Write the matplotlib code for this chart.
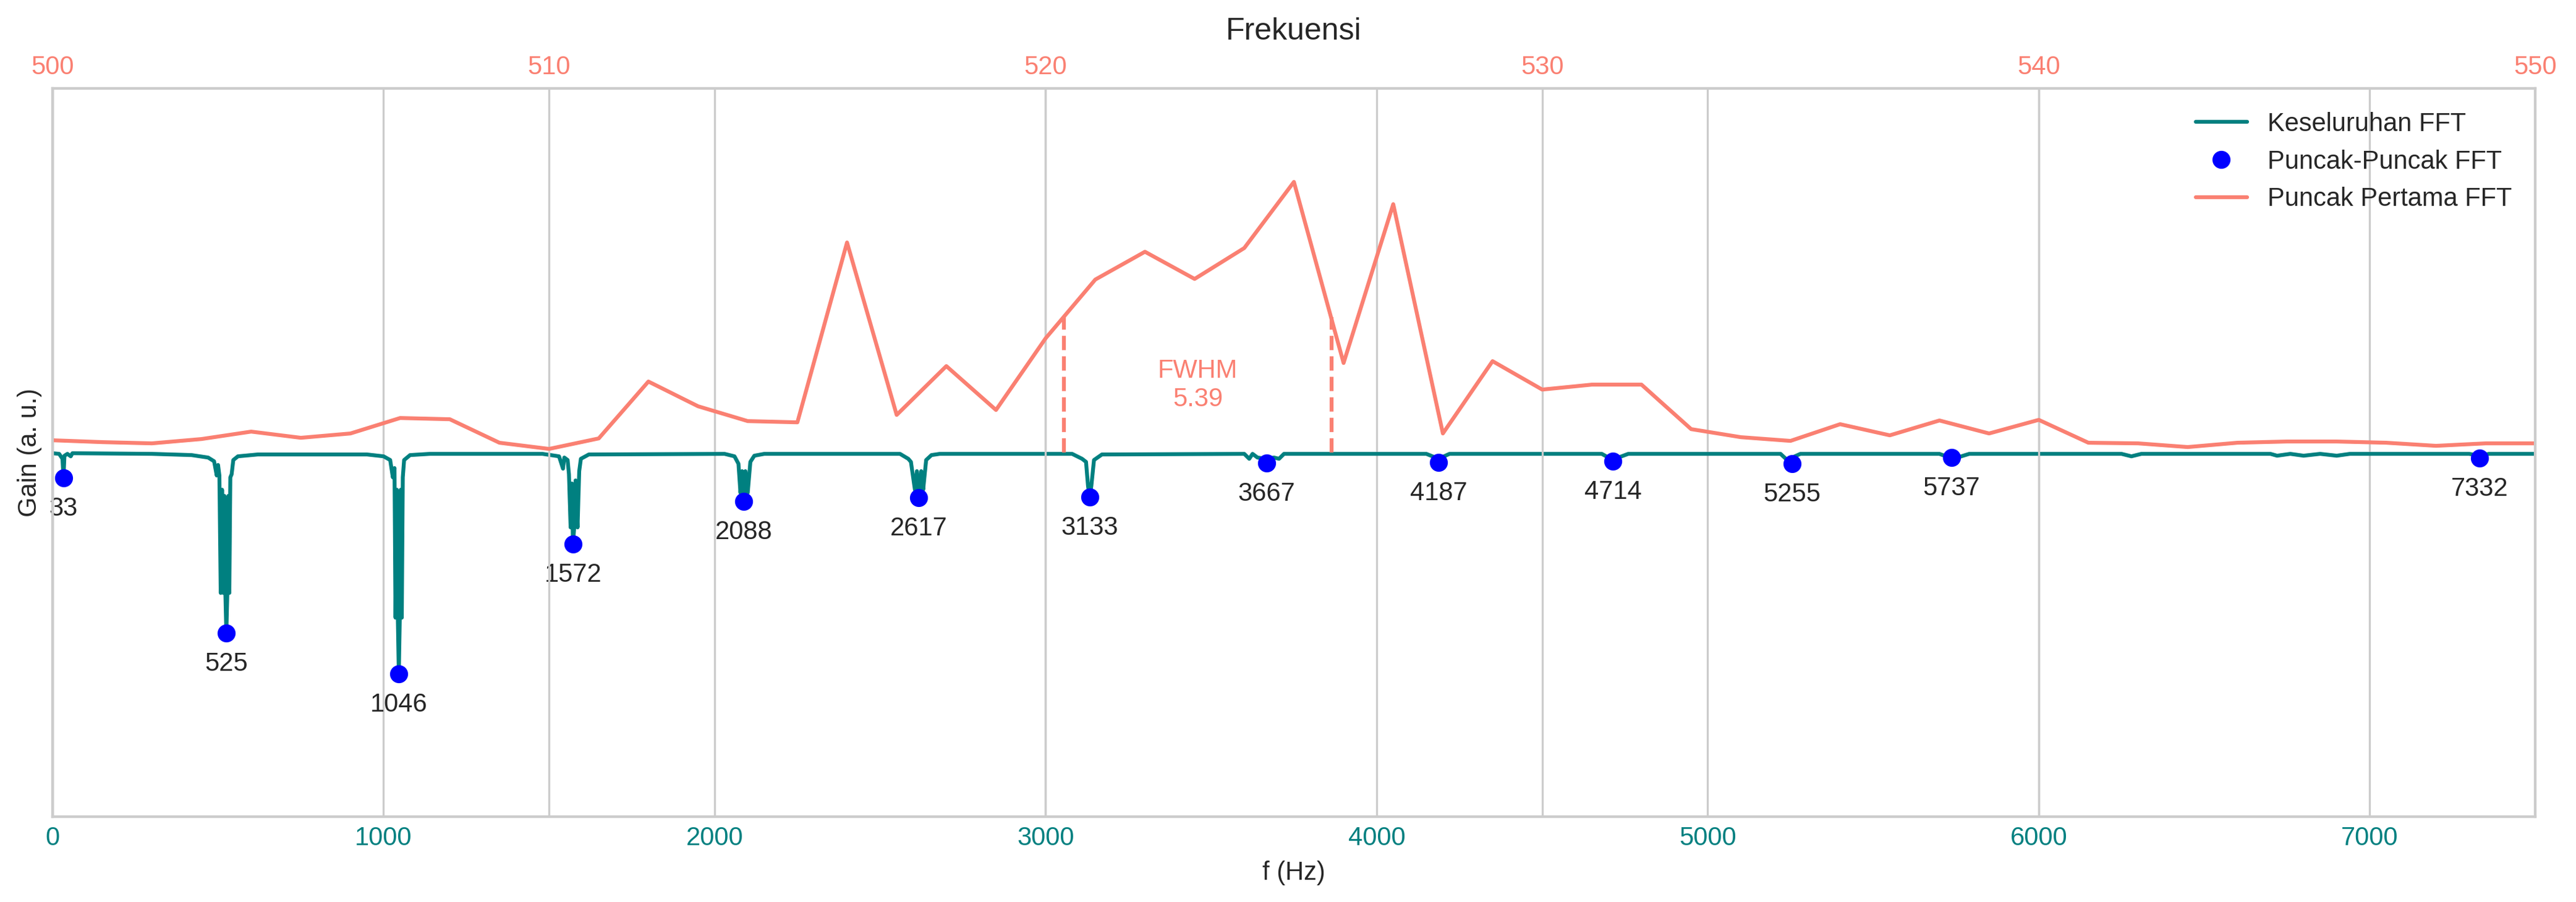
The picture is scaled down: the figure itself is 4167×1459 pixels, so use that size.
import matplotlib
matplotlib.use("Agg")
import matplotlib.pyplot as plt

plt.style.use("seaborn-v0_8-whitegrid")
plt.rcParams['font.family'] = 'sans-serif'
plt.rcParams['font.sans-serif'] = ['Liberation Sans', 'DejaVu Sans']

# whole spectrum (teal)
fft_freq = [0, 20, 30, 33, 36, 45, 55, 60,
            300, 420, 470, 488, 496, 500, 504, 508, 512, 516, 519, 522, 525, 528, 531, 534, 537, 541, 546, 560, 620,
            950, 1000, 1020, 1028, 1033, 1036, 1040, 1043, 1046, 1049, 1052, 1055, 1058, 1062, 1080, 1140,
            1480, 1530, 1542, 1546, 1556, 1560, 1565, 1569, 1572, 1576, 1580, 1586, 1591, 1596, 1620,
            2030, 2060, 2072, 2078, 2083, 2088, 2093, 2100, 2108, 2120, 2150,
            2560, 2585, 2593, 2605, 2611, 2617, 2624, 2630, 2639, 2655, 2680,
            3080, 3110, 3122, 3128, 3133, 3138, 3146, 3170,
            3600, 3615, 3625, 3640, 3667, 3690, 3705, 3720,
            4150, 4187, 4220,
            4680, 4700, 4714, 4730, 4760,
            5220, 5240, 5255, 5280,
            5700, 5720, 5737, 5760, 5790,
            6250, 6280, 6310,
            6700, 6720, 6760, 6800, 6850, 6900, 6940,
            7300, 7332, 7360, 7500]
fft_gain = [-0.01, -0.02, -0.1, -0.41, -0.05, -0.02, -0.06, -0.01,
            -0.02, -0.04, -0.08, -0.14, -0.37, -0.2, -0.37, -2.27, -0.6, -2.27, -0.7, -2.27, -2.92, -2.27, -0.7, -2.27, -0.4, -0.35, -0.12, -0.06, -0.03,
            -0.03, -0.06, -0.12, -0.4, -0.25, -2.67, -0.6, -2.67, -3.58, -2.67, -0.6, -2.67, -0.4, -0.12, -0.04, -0.02,
            -0.02, -0.06, -0.26, -0.08, -0.12, -0.35, -1.21, -0.5, -1.48, -1.21, -0.45, -1.21, -0.3, -0.1, -0.03,
            -0.02, -0.06, -0.18, -0.65, -0.3, -0.79, -0.3, -0.65, -0.15, -0.05, -0.02,
            -0.02, -0.1, -0.15, -0.6, -0.3, -0.73, -0.3, -0.6, -0.12, -0.04, -0.02,
            -0.02, -0.1, -0.15, -0.54, -0.72, -0.54, -0.12, -0.03,
            -0.02, -0.1, -0.02, -0.08, -0.1, -0.08, -0.1, -0.02,
            -0.02, -0.1, -0.02,
            -0.02, -0.08, -0.1, -0.08, -0.02,
            -0.02, -0.12, -0.08, -0.02,
            -0.02, -0.06, -0.05, -0.07, -0.02,
            -0.02, -0.06, -0.02,
            -0.02, -0.05, -0.02, -0.05, -0.02, -0.05, -0.02,
            -0.02, -0.05, -0.02, -0.02]

# detected peaks
peak_freq = [33, 525, 1046, 1572, 2088, 2617, 3133, 3667, 4187, 4714, 5255, 5737, 7332]
peak_gain = [-0.41, -2.92, -3.58, -1.48, -0.79, -0.73, -0.72, -0.17, -0.16, -0.14, -0.18, -0.08, -0.09]

# first peak, 500 - 550 Hz (salmon)
first_freq = list(range(500, 551))
first_gain = [0.20, 0.17, 0.15, 0.22, 0.34, 0.24, 0.31, 0.56, 0.54, 0.16,
              0.06, 0.23, 1.15, 0.75, 0.51, 0.49, 3.40, 0.61, 1.40, 0.69,
              1.85, 2.80, 3.25, 2.81, 3.31, 4.38, 1.45, 4.02, 0.31, 1.48,
              1.02, 1.10, 1.10, 0.38, 0.25, 0.19, 0.46, 0.28, 0.52, 0.31,
              0.53, 0.16, 0.15, 0.09, 0.16, 0.18, 0.18, 0.16, 0.11, 0.15,
              0.15]

fwhm_left = 520.37
fwhm_right = 525.76
half_max = max(first_gain) / 2

fig = plt.figure(figsize=(4167 / 300, 1459 / 300), dpi=300)
ax = fig.add_subplot(111)
fig.subplots_adjust(left=0.0204, right=0.9842, top=0.9018, bottom=0.0946)

l1, = ax.plot(fft_freq, fft_gain, color='teal', lw=1.5, label='Keseluruhan FFT')
l2, = ax.plot(peak_freq, peak_gain, 'o', color='blue', ms=6, label='Puncak-Puncak FFT')
for f, g in zip(peak_freq, peak_gain):
    ax.annotate(str(f), (f, g), xytext=(0, -12), textcoords='offset points',
                ha='center', va='center', fontsize=10, color='.15')

ax.set_xlim(0, 7500)
ax.set_ylim(-5.89, 5.89)
ax.set_yticks([])
ax.set_xlabel('f (Hz)')
ax.set_ylabel('Gain (a. u.)')
ax.tick_params(axis='x', colors='teal', labelsize=10)

ax2 = ax.twiny()
l3, = ax2.plot(first_freq, first_gain, color='salmon', lw=1.5, label='Puncak Pertama FFT')
ax2.vlines([fwhm_left, fwhm_right], 0, half_max, colors='salmon', linestyles='--', lw=1.5)
ax2.text((fwhm_left + fwhm_right) / 2, half_max / 2, 'FWHM\n%.2f' % (fwhm_right - fwhm_left),
         color='salmon', ha='center', va='center', fontsize=10)
ax2.set_xlim(500, 550)
ax2.set_xticks(range(500, 551, 10))
ax2.tick_params(axis='x', colors='salmon', labelsize=10)
ax2.set_title('Frekuensi', fontsize=12)

ax2.legend(handles=[l1, l2, l3], loc='upper right', frameon=False, fontsize=10)

fig.savefig('out.png', dpi=300)
